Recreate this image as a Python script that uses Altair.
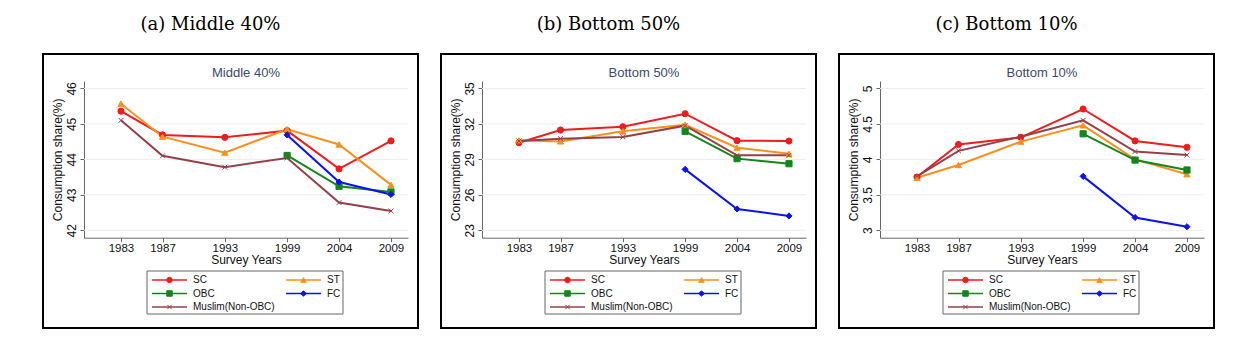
import altair as alt
import pandas as pd

YEARS = [1983, 1987, 1993, 1999, 2004, 2009]
SERIES = ["SC", "ST", "OBC", "FC", "Muslim(Non-OBC)"]
COLORS = ["#ee1c1c", "#f7901e", "#13861b", "#0a12f0", "#94404a"]
SHAPES = ["circle", "triangle-up", "square", "diamond",
          "M-0.8,-0.8L0.8,0.8M-0.8,0.8L0.8,-0.8"]

# Middle 40%
MID40_SC = [45.36, 44.69, 44.62, 44.81, 43.73, 44.52]
MID40_ST = [45.57, 44.64, 44.19, 44.85, 44.42, 43.28]
MID40_OBC = [None, None, None, 44.11, 43.24, 43.08]
MID40_FC = [None, None, None, 44.69, 43.36, 43.01]
MID40_MUS = [45.10, 44.10, 43.78, 44.04, 42.78, 42.54]
MID40_TICKS = [42, 43, 44, 45, 46]

# Bottom 50%
B50_SC = [30.41, 31.48, 31.76, 32.86, 30.58, 30.55]
B50_ST = [30.61, 30.52, 31.37, 31.93, 29.99, 29.48]
B50_OBC = [None, None, None, 31.37, 29.06, 28.63]
B50_FC = [None, None, None, 28.15, 24.80, 24.21]
B50_MUS = [30.55, 30.75, 30.89, 31.85, 29.34, 29.34]
B50_TICKS = [23, 26, 29, 32, 35]

# Bottom 10%
B10_SC = [3.75, 4.21, 4.31, 4.71, 4.26, 4.17]
B10_ST = [3.74, 3.92, 4.25, 4.48, 4.00, 3.79]
B10_OBC = [None, None, None, 4.36, 3.99, 3.85]
B10_FC = [None, None, None, 3.76, 3.18, 3.05]
B10_MUS = [3.76, 4.12, 4.32, 4.55, 4.11, 4.06]
B10_TICKS = [3, 3.5, 4, 4.5, 5]

LEGEND_COL = [0, 1, 0, 1, 0]
LEGEND_ROW = [0, 0, 1, 1, 2]

W, H = 375, 274
X_DOMAIN = [1979.44, 2010.64]
X_RANGE = [41, 365]
Y_RANGE = [183.7, 27]
FONT = "Liberation Sans"

color_scale = alt.Scale(domain=SERIES, range=COLORS)
shape_scale = alt.Scale(domain=SERIES, range=SHAPES)


def panel(series_lists, ticks, caption, inner):
    rows = []
    for s, vals in zip(SERIES, series_lists):
        for yr, v in zip(YEARS, vals):
            if v is not None:
                rows.append({"series": s, "year": yr, "value": v})
    df = pd.DataFrame(rows)
    pad = (ticks[-1] - ticks[0]) * 0.0525
    ydom = [ticks[0] - pad, ticks[-1] + pad]
    xs = alt.Scale(domain=X_DOMAIN, range=X_RANGE, nice=False, zero=False)
    ys = alt.Scale(domain=ydom, range=Y_RANGE, nice=False, zero=False)

    grid = alt.Chart(pd.DataFrame({"v": ticks})).mark_rule(
        color="#e9eef1", strokeWidth=1
    ).encode(
        x=alt.value(X_RANGE[0]), x2=alt.value(X_RANGE[1]),
        y=alt.Y("v:Q", scale=ys, axis=None),
    )

    lines = alt.Chart(df).mark_line(strokeWidth=2).encode(
        x=alt.X("year:Q", scale=xs,
                axis=alt.Axis(values=YEARS, format="d", offset=-(H - Y_RANGE[0]),
                              grid=False, domainColor="#666", tickColor="#666",
                              tickSize=4, labelFont=FONT, labelFontSize=11.5,
                              labelColor="#111", labelPadding=1, labelFlush=False,
                              title="Survey Years", titleFont=FONT, titleFontSize=12,
                              titleFontWeight="normal", titleColor="#111",
                              titlePadding=0)),
        y=alt.Y("value:Q", scale=ys,
                axis=alt.Axis(values=ticks, format="~g", offset=-X_RANGE[0],
                              grid=False, domainColor="#666", tickColor="#666",
                              tickSize=4, labelFont=FONT, labelFontSize=12,
                              labelColor="#111", labelAngle=270, labelAlign="center",
                              labelBaseline="bottom", labelPadding=2,
                              title="Consumption share(%)", titleFont=FONT,
                              titleFontSize=12, titleFontWeight="normal",
                              titleColor="#111", titlePadding=1)),
        color=alt.Color("series:N", scale=color_scale, legend=None),
    )
    points = alt.Chart(df).mark_point(filled=True, size=38, strokeWidth=1,
                                      opacity=1).encode(
        x=alt.X("year:Q", scale=xs, axis=None),
        y=alt.Y("value:Q", scale=ys, axis=None),
        color=alt.Color("series:N", scale=color_scale, legend=None),
        shape=alt.Shape("series:N", scale=shape_scale, legend=None),
        stroke=alt.Stroke("series:N", scale=color_scale, legend=None),
    )

    title_df = pd.DataFrame({"t": [inner]})
    inner_title = alt.Chart(title_df).mark_text(
        font=FONT, fontSize=13, color="#3b4a6b", align="center", baseline="middle"
    ).encode(x=alt.value(203), y=alt.value(19), text="t:N")

    leg_df = pd.DataFrame({"series": SERIES, "col": LEGEND_COL, "row": LEGEND_ROW})
    lx = alt.Scale(domain=[0, 1], range=[109, 243])
    ly = alt.Scale(domain=[0, 2], range=[226, 253])
    leg_base = alt.Chart(leg_df).encode(
        x=alt.X("col:Q", scale=lx, axis=None),
        y=alt.Y("row:Q", scale=ly, axis=None),
    )
    leg_box = alt.Chart(title_df).mark_rect(
        fillOpacity=0, stroke="#666", strokeWidth=1
    ).encode(x=alt.value(104), x2=alt.value(300), y=alt.value(217), y2=alt.value(260))
    leg_lines = leg_base.mark_rule(strokeWidth=1.5, x2Offset=35).encode(
        x2="col:Q",
        color=alt.Color("series:N", scale=color_scale, legend=None))
    leg_pts = leg_base.mark_point(filled=True, size=30, strokeWidth=1, opacity=1,
                                  xOffset=17.5).encode(
        color=alt.Color("series:N", scale=color_scale, legend=None),
        shape=alt.Shape("series:N", scale=shape_scale, legend=None),
        stroke=alt.Stroke("series:N", scale=color_scale, legend=None),
    )
    leg_text = leg_base.mark_text(align="left", baseline="middle", xOffset=41,
                                  font=FONT, fontSize=10, color="#111").encode(
        text="series:N")

    return alt.layer(
        grid, lines, points, inner_title, leg_box, leg_lines, leg_pts, leg_text
    ).resolve_scale(x="independent", y="independent").properties(
        width=W, height=H,
        title=alt.TitleParams(caption, font="DejaVu Serif", fontSize=18,
                              fontWeight="normal", color="#000", anchor="middle",
                              dx=-20, offset=20),
    )


p1 = panel([MID40_SC, MID40_ST, MID40_OBC, MID40_FC, MID40_MUS], MID40_TICKS,
           "(a) Middle 40%", "Middle 40%")
p2 = panel([B50_SC, B50_ST, B50_OBC, B50_FC, B50_MUS], B50_TICKS,
           "(b) Bottom 50%", "Bottom 50%")
p3 = panel([B10_SC, B10_ST, B10_OBC, B10_FC, B10_MUS], B10_TICKS,
           "(c) Bottom 10%", "Bottom 10%")

chart = alt.hconcat(p1, p2, p3, spacing=21).properties(
    padding={"left": 34, "top": 7, "right": 5, "bottom": 5},
    background="white",
).configure_view(stroke="#000", strokeWidth=2)

chart.save("out.html", embed_options={"renderer": "svg", "actions": False})
